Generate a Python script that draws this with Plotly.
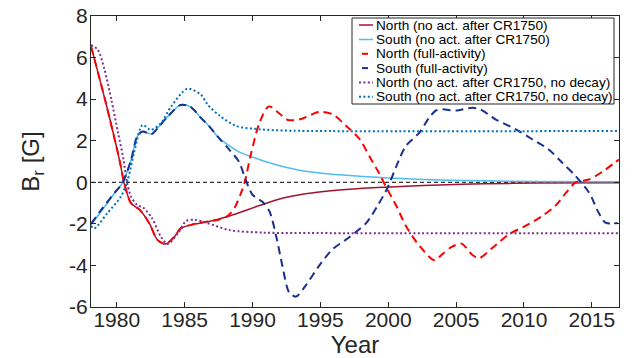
import plotly.graph_objects as go

# ---- data ----
north_noact_x = [1978.1, 1979.2, 1980.2, 1980.55, 1981.05, 1981.7, 1982.4, 1983.0, 1983.6, 1984.25, 1984.7,
                 1985.7, 1986.7, 1988.3, 1990.5, 1992.0, 1993.9, 1996.4, 1998.85, 2001.3, 2003.75, 2007.0,
                 2011.0, 2017.0]
north_noact_y = [6.55, 3.8, 1.07, -0.05, -1.01, -1.33, -1.98, -2.78, -2.97, -2.62, -2.22,
                 -2.01, -1.9, -1.62, -1.12, -0.8, -0.55, -0.37, -0.26, -0.19, -0.13, -0.07,
                 -0.04, -0.02]

south_noact_x = [1978.1, 1979.3, 1979.8, 1980.4, 1981.05, 1981.5, 1981.9, 1982.3, 1982.6, 1983.1, 1983.75,
                 1984.7, 1985.4, 1986.2, 1986.8, 1987.5, 1988.3, 1989.04, 1990.5, 1992.0, 1993.9, 1996.4,
                 1998.85, 2001.3, 2003.75, 2007.0, 2011.0, 2017.0]
south_noact_y = [-2.05, -1.01, -0.55, -0.05, 1.07, 2.2, 2.44, 2.36, 2.33, 2.68, 3.16,
                 3.72, 3.64, 3.1, 2.7, 2.15, 1.75, 1.45, 1.1, 0.8, 0.53, 0.36,
                 0.25, 0.17, 0.11, 0.07, 0.04, 0.02]

north_full_x = [1978.1, 1979.2, 1980.2, 1980.55, 1981.05, 1981.7, 1982.4, 1983.0, 1983.6, 1984.25, 1984.7,
                1985.7, 1986.7, 1987.5, 1988.2, 1988.7, 1989.1, 1989.4, 1989.9, 1990.5, 1991.2, 1992.0,
                1992.6, 1993.5, 1994.9, 1995.9, 1996.9, 1997.9, 1998.6, 1999.3, 1999.8, 2000.6, 2001.3,
                2002.3, 2003.4, 2004.0, 2004.7, 2005.4, 2006.2, 2006.7, 2007.7, 2008.9, 2010.1, 2011.35,
                2012.3, 2013.1, 2013.8, 2014.8, 2015.76, 2016.6, 2017.0]
north_full_y = [6.55, 3.8, 1.07, -0.05, -1.01, -1.33, -1.98, -2.78, -2.97, -2.62, -2.22,
                -2.01, -1.88, -1.8, -1.6, -1.2, -0.6, -0.05, 1.4, 2.84, 3.65, 3.3,
                3.0, 3.03, 3.38, 3.27, 2.71, 2.07, 1.26, 0.47, -0.18, -1.14, -2.1,
                -3.06, -3.75, -3.45, -3.1, -2.95, -3.5, -3.65, -3.14, -2.5, -2.1, -1.62,
                -1.14, -0.5, -0.01, 0.14, 0.5, 0.9, 1.1]

south_full_x = [1978.1, 1978.85, 1979.8, 1980.4, 1981.05, 1981.5, 1981.9, 1982.3, 1982.6, 1983.1, 1983.75,
                1984.7, 1985.4, 1986.2, 1986.8, 1987.5, 1988.3, 1989.0, 1989.5, 1990.0, 1990.75, 1991.25,
                1991.74, 1992.2, 1992.7, 1993.2, 1993.9, 1994.9, 1995.9, 1997.1, 1998.4, 1999.2, 1999.95,
                2000.6, 2001.3, 2002.3, 2003.0, 2003.5, 2004.0, 2005.0, 2006.2, 2006.8, 2007.9, 2009.4,
                2010.6, 2011.8, 2012.8, 2013.8, 2014.8, 2015.5, 2016.0, 2016.9]
south_full_y = [-2.0, -1.33, -0.53, -0.05, 1.07, 2.2, 2.44, 2.36, 2.33, 2.68, 3.16,
                3.72, 3.64, 3.1, 2.7, 2.15, 1.56, 0.99, 0.11, -0.6, -0.95, -1.4,
                -2.58, -4.02, -5.3, -5.5, -4.98, -4.02, -3.22, -2.66, -1.94, -1.14, -0.26,
                0.78, 1.75, 2.39, 3.1, 3.45, 3.51, 3.45, 3.59, 3.5, 3.03, 2.55,
                2.07, 1.59, 0.95, 0.3, -0.5, -1.46, -1.94, -1.96]

north_nodecay_x = [1978.1, 1978.6, 1979.1, 1979.6, 1980.1, 1980.5, 1980.75, 1981.05, 1981.5, 1982.0, 1982.6,
                   1983.25, 1983.75, 1984.5, 1985.1, 1985.7, 1986.6, 1988.3, 1990.75, 1993.0, 2017.0]
north_nodecay_y = [6.6, 6.38, 5.41, 3.97, 2.36, 1.07, 0.0, -0.69, -1.09, -1.25, -1.73,
                   -2.62, -2.97, -2.46, -1.87, -1.8, -1.95, -2.3, -2.42, -2.44, -2.45]

south_nodecay_x = [1978.1, 1978.35, 1979.3, 1980.3, 1980.8, 1981.3, 1981.9, 1982.5, 1983.25, 1984.0, 1985.2,
                   1986.2, 1986.7, 1987.6, 1988.8, 1990.5, 1993.0, 2017.0]
south_nodecay_y = [-2.1, -2.22, -1.49, -0.69, 0.1, 1.5, 2.76, 2.52, 2.84, 3.64, 4.5,
                   4.21, 3.73, 3.19, 2.71, 2.55, 2.48, 2.47]

legend_labels = ["North (no act. after CR1750)", "South (no act. after CR1750)",
                 "North (full-activity)", "South (full-activity)",
                 "North (no act. after CR1750, no decay)", "South (no act. after CR1750, no decay)"]
x_ticks = [1980, 1985, 1990, 1995, 2000, 2005, 2010, 2015]
y_ticks = [-6, -4, -2, 0, 2, 4, 6, 8]

# ---- styles ----
colors = ["#A2142F", "#4DBEEE", "#FF0000", "#1A2F8F", "#7E2F8E", "#0072BD"]
dashes = ["solid", "solid", "8px,5px", "8px,5px", "2px,2.4px", "2px,2.4px"]
widths = [1.5, 1.5, 2, 2, 2, 2]
series = [(north_noact_x, north_noact_y), (south_noact_x, south_noact_y),
          (north_full_x, north_full_y), (south_full_x, south_full_y),
          (north_nodecay_x, north_nodecay_y), (south_nodecay_x, south_nodecay_y)]

fig = go.Figure()
for (xs, ys), c, d, w, name in zip(series, colors, dashes, widths, legend_labels):
    fig.add_trace(go.Scatter(x=xs, y=ys, mode="lines", name=name, showlegend=False,
                             line=dict(color=c, dash=d, width=w, shape="spline", smoothing=0.8)))

W, H = 632, 358
L, R, T, B = 91, 13, 16, 51
pw, ph = W - L - R, H - T - B

def px2paper(px, py):
    return (px - L) / pw, (H - B - py) / ph

shapes = []
# zero line
shapes.append(dict(type="line", xref="paper", yref="y", x0=0, x1=1, y0=0, y1=0,
                   line=dict(color="black", width=1, dash="4px,3px"), layer="below"))
# legend box
bx0, by0 = px2paper(352, 104)
bx1, by1 = px2paper(614, 18)
shapes.append(dict(type="rect", xref="paper", yref="paper", x0=bx0, y0=by0, x1=bx1, y1=by1,
                   line=dict(color="#262626", width=1), fillcolor="white", layer="above"))
annotations = []
row_y = [25, 39.5, 53.8, 68.1, 82.4, 96.7]
for i, (lab, c, d) in enumerate(zip(legend_labels, colors, dashes)):
    yy = row_y[i]
    if d.startswith("8px"):
        sx0, sx1, sd = 362, 368, "solid"
    else:
        sx0, sx1, sd = 359, 373, d
    x0p, yp = px2paper(sx0, yy)
    x1p, _ = px2paper(sx1, yy)
    shapes.append(dict(type="line", xref="paper", yref="paper", x0=x0p, x1=x1p, y0=yp, y1=yp,
                       line=dict(color=c, width=1.5 if i < 2 else 2, dash=sd), layer="above"))
    tx, _ = px2paper(374, yy)
    annotations.append(dict(text=lab, xref="paper", yref="paper", x=tx, y=yp, xanchor="left",
                            yanchor="middle", showarrow=False,
                            font=dict(family="Liberation Sans, Arial", size=13.6, color="black")))

axis_common = dict(showline=True, linecolor="#262626", linewidth=1, mirror="ticks",
                   ticks="inside", ticklen=5, tickcolor="#262626", tickwidth=1,
                   showgrid=False, zeroline=False,
                   tickfont=dict(family="Liberation Sans, Arial", size=21, color="#262626"))

fig.update_layout(
    width=W, height=H, margin=dict(l=L, r=R, t=T, b=B, autoexpand=False),
    paper_bgcolor="white", plot_bgcolor="white",
    font=dict(family="Liberation Sans, Arial", color="#262626"),
    xaxis=dict(range=[1978.1, 2017.0], tickvals=x_ticks, ticktext=[str(v) for v in x_ticks],
               ticklabelstandoff=-6,
               title=dict(text="Year", font=dict(size=24, color="#262626"), standoff=4),
               **axis_common),
    yaxis=dict(range=[-6, 8], tickvals=y_ticks, ticktext=[str(v) for v in y_ticks],
               ticklabelstandoff=-2,
               title=dict(text="B<sub>r</sub> [G]", font=dict(size=24, color="#262626"), standoff=22),
               **axis_common),
    shapes=shapes, annotations=annotations, showlegend=False,
)

fig.write_html("out.html")
